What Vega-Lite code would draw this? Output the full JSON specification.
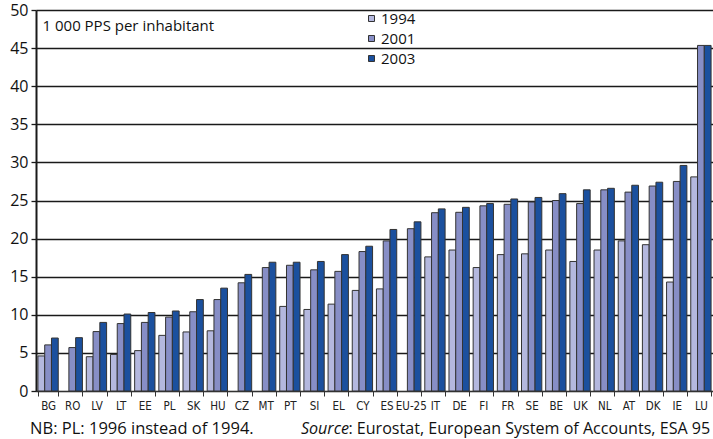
{
  "$schema": "https://vega.github.io/schema/vega-lite/v6.json",
  "width": 677,
  "height": 381,
  "autosize": {"type": "none"},
  "padding": {"left": 36, "top": 10, "right": 0, "bottom": 48},
  "background": "white",
  "config": {
    "view": {"stroke": null},
    "font": "Open Sans",
    "axisX": {
      "title": null,
      "labelAngle": 0,
      "labelFont": "DejaVu Sans Condensed",
      "labelFontSize": 11.5,
      "labelColor": "#222222",
      "labelPadding": 4,
      "labelOverlap": false,
      "ticks": true,
      "tickSize": 5,
      "tickWidth": 1,
      "tickColor": "#333333",
      "domainColor": "#333333",
      "domainWidth": 1
    },
    "axisY": {
      "labelOverlap": false,
      "grid": true,
      "gridColor": "#1a1a1a",
      "gridWidth": 1.3,
      "domainColor": "#1a1a1a",
      "domainWidth": 2,
      "tickColor": "#1a1a1a",
      "tickSize": 5,
      "tickWidth": 1.3,
      "labelFontSize": 16,
      "labelColor": "#111111",
      "labelPadding": 3,
      "titleAngle": 0,
      "titleAlign": "left",
      "titleBaseline": "alphabetic",
      "titleX": 6,
      "titleY": 20,
      "titleFontSize": 15,
      "titleFontWeight": "normal",
      "titleColor": "#111111"
    }
  },
  "datasets": {
    "gdp": [
      {"country": "BG", "year": "1994", "value": 4.6},
      {"country": "BG", "year": "2001", "value": 6.05},
      {"country": "BG", "year": "2003", "value": 6.95},
      {"country": "RO", "year": "2001", "value": 5.7},
      {"country": "RO", "year": "2003", "value": 7.0},
      {"country": "LV", "year": "1994", "value": 4.5},
      {"country": "LV", "year": "2001", "value": 7.8},
      {"country": "LV", "year": "2003", "value": 9.0},
      {"country": "LT", "year": "1994", "value": 4.8},
      {"country": "LT", "year": "2001", "value": 8.85},
      {"country": "LT", "year": "2003", "value": 10.1},
      {"country": "EE", "year": "1994", "value": 5.3},
      {"country": "EE", "year": "2001", "value": 9.0},
      {"country": "EE", "year": "2003", "value": 10.3},
      {"country": "PL", "year": "1994", "value": 7.3},
      {"country": "PL", "year": "2001", "value": 9.7},
      {"country": "PL", "year": "2003", "value": 10.5},
      {"country": "SK", "year": "1994", "value": 7.75},
      {"country": "SK", "year": "2001", "value": 10.4},
      {"country": "SK", "year": "2003", "value": 12.0},
      {"country": "HU", "year": "1994", "value": 7.9},
      {"country": "HU", "year": "2001", "value": 12.0},
      {"country": "HU", "year": "2003", "value": 13.5},
      {"country": "CZ", "year": "2001", "value": 14.2},
      {"country": "CZ", "year": "2003", "value": 15.3},
      {"country": "MT", "year": "2001", "value": 16.2},
      {"country": "MT", "year": "2003", "value": 16.9},
      {"country": "PT", "year": "1994", "value": 11.1},
      {"country": "PT", "year": "2001", "value": 16.5},
      {"country": "PT", "year": "2003", "value": 16.9},
      {"country": "SI", "year": "1994", "value": 10.7},
      {"country": "SI", "year": "2001", "value": 15.9},
      {"country": "SI", "year": "2003", "value": 17.0},
      {"country": "EL", "year": "1994", "value": 11.4},
      {"country": "EL", "year": "2001", "value": 15.7},
      {"country": "EL", "year": "2003", "value": 17.9},
      {"country": "CY", "year": "1994", "value": 13.2},
      {"country": "CY", "year": "2001", "value": 18.3},
      {"country": "CY", "year": "2003", "value": 19.0},
      {"country": "ES", "year": "1994", "value": 13.4},
      {"country": "ES", "year": "2001", "value": 19.7},
      {"country": "ES", "year": "2003", "value": 21.2},
      {"country": "EU-25", "year": "2001", "value": 21.3},
      {"country": "EU-25", "year": "2003", "value": 22.2},
      {"country": "IT", "year": "1994", "value": 17.6},
      {"country": "IT", "year": "2001", "value": 23.4},
      {"country": "IT", "year": "2003", "value": 23.9},
      {"country": "DE", "year": "1994", "value": 18.5},
      {"country": "DE", "year": "2001", "value": 23.45},
      {"country": "DE", "year": "2003", "value": 24.1},
      {"country": "FI", "year": "1994", "value": 16.2},
      {"country": "FI", "year": "2001", "value": 24.3},
      {"country": "FI", "year": "2003", "value": 24.6},
      {"country": "FR", "year": "1994", "value": 17.9},
      {"country": "FR", "year": "2001", "value": 24.5},
      {"country": "FR", "year": "2003", "value": 25.2},
      {"country": "SE", "year": "1994", "value": 18.0},
      {"country": "SE", "year": "2001", "value": 24.8},
      {"country": "SE", "year": "2003", "value": 25.4},
      {"country": "BE", "year": "1994", "value": 18.5},
      {"country": "BE", "year": "2001", "value": 25.0},
      {"country": "BE", "year": "2003", "value": 25.9},
      {"country": "UK", "year": "1994", "value": 17.0},
      {"country": "UK", "year": "2001", "value": 24.6},
      {"country": "UK", "year": "2003", "value": 26.4},
      {"country": "NL", "year": "1994", "value": 18.5},
      {"country": "NL", "year": "2001", "value": 26.4},
      {"country": "NL", "year": "2003", "value": 26.6},
      {"country": "AT", "year": "1994", "value": 19.7},
      {"country": "AT", "year": "2001", "value": 26.1},
      {"country": "AT", "year": "2003", "value": 27.0},
      {"country": "DK", "year": "1994", "value": 19.2},
      {"country": "DK", "year": "2001", "value": 26.9},
      {"country": "DK", "year": "2003", "value": 27.4},
      {"country": "IE", "year": "1994", "value": 14.3},
      {"country": "IE", "year": "2001", "value": 27.5},
      {"country": "IE", "year": "2003", "value": 29.6},
      {"country": "LU", "year": "1994", "value": 28.1},
      {"country": "LU", "year": "2001", "value": 45.35},
      {"country": "LU", "year": "2003", "value": 45.35}
    ],
    "noteLeft": [
      {"text": "NB: PL: 1996 instead of 1994.", "cat": "BG"}
    ],
    "noteRight": [
      {"text": ": Eurostat, European System of Accounts, ESA 95", "cat": "PT"}
    ],
    "noteItalic": [
      {"text": "Source", "cat": "PT"}
    ]
  },
  "layer": [
    {
      "data": {"name": "gdp"},
      "mark": {"type": "bar", "stroke": "#333333", "strokeWidth": 1},
      "encoding": {
        "x": {
          "field": "country",
          "type": "nominal",
          "sort": null,
          "scale": {"paddingInner": 0.16, "paddingOuter": 0.08},
          "axis": {"tickBand": "extent"}
        },
        "xOffset": {
          "field": "year",
          "type": "nominal",
          "scale": {"paddingInner": 0, "paddingOuter": 0}
        },
        "y": {
          "field": "value",
          "type": "quantitative",
          "scale": {"domain": [0, 50], "nice": false},
          "axis": {
            "values": [0, 5, 10, 15, 20, 25, 30, 35, 40, 45, 50],
            "title": "1 000 PPS per inhabitant"
          }
        },
        "fill": {
          "field": "year",
          "type": "nominal",
          "scale": {"domain": ["1994", "2001", "2003"], "range": ["#b4b8de", "#878ec6", "#1b509e"]},
          "legend": {
            "title": null,
            "orient": "none",
            "legendX": 328,
            "legendY": 1,
            "symbolType": "square",
            "symbolSize": 36,
            "symbolStrokeColor": "#333333",
            "symbolStrokeWidth": 1,
            "labelFontSize": 15,
            "labelColor": "#111111",
            "labelOffset": 2,
            "rowPadding": 4
          }
        }
      }
    },
    {
      "data": {"name": "noteLeft"},
      "mark": {"type": "text", "fontSize": 16.5, "color": "#111111", "baseline": "alphabetic", "align": "left", "dx": -18},
      "encoding": {
        "x": {"field": "cat", "type": "nominal", "sort": null, "axis": {"tickBand": "extent"}},
        "y": {"datum": -5.6, "type": "quantitative", "axis": {"values": [0, 5, 10, 15, 20, 25, 30, 35, 40, 45, 50], "title": "1 000 PPS per inhabitant"}},
        "text": {"field": "text"}
      }
    },
    {
      "data": {"name": "noteRight"},
      "mark": {"type": "text", "fontSize": 16.1, "color": "#111111", "baseline": "alphabetic", "align": "left", "dx": 58.5},
      "encoding": {
        "x": {"field": "cat", "type": "nominal", "sort": null, "axis": {"tickBand": "extent"}},
        "y": {"datum": -5.6, "type": "quantitative", "axis": {"values": [0, 5, 10, 15, 20, 25, 30, 35, 40, 45, 50], "title": "1 000 PPS per inhabitant"}},
        "text": {"field": "text"}
      }
    },
    {
      "data": {"name": "noteItalic"},
      "mark": {"type": "text", "fontSize": 16.1, "fontStyle": "italic", "color": "#111111", "baseline": "alphabetic", "align": "left", "dx": 11},
      "encoding": {
        "x": {"field": "cat", "type": "nominal", "sort": null, "axis": {"tickBand": "extent"}},
        "y": {"datum": -5.6, "type": "quantitative", "axis": {"values": [0, 5, 10, 15, 20, 25, 30, 35, 40, 45, 50], "title": "1 000 PPS per inhabitant"}},
        "text": {"field": "text"}
      }
    }
  ]
}
